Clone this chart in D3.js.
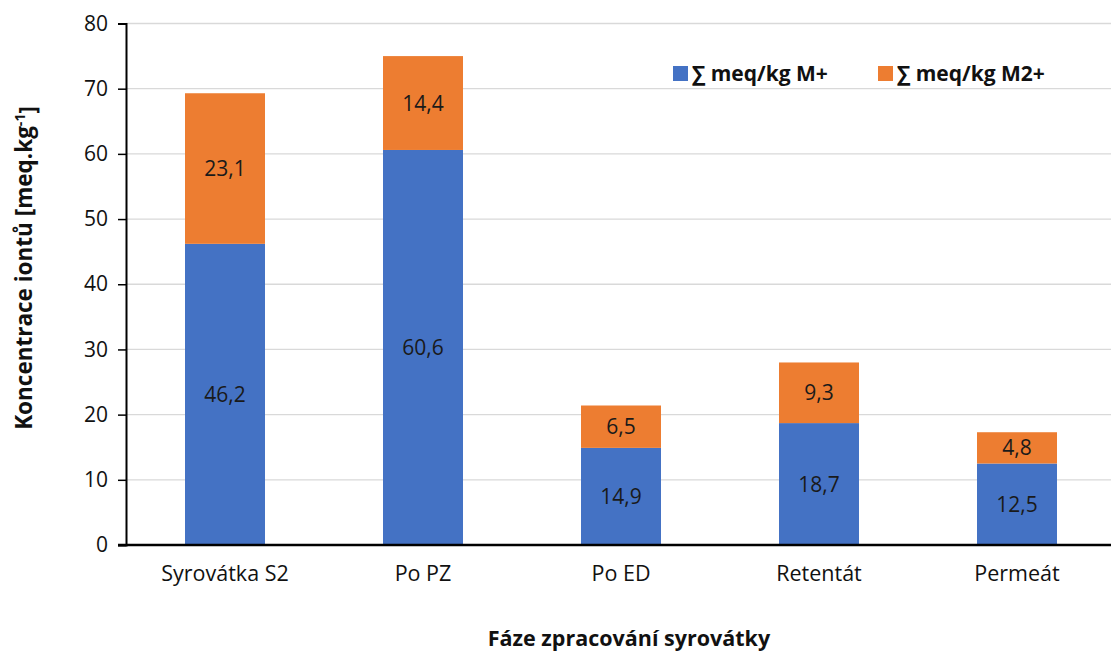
<!DOCTYPE html>
<html>
<head>
<meta charset="utf-8">
<script src="https://cdn.jsdelivr.net/npm/d3@7"></script>
<style>
  html, body { margin: 0; padding: 0; background: #fff; }
  svg { display: block; font-family: "Open Sans", sans-serif; }
</style>
</head>
<body>
<svg id="chart" width="1111" height="653"></svg>
<script>
// Ion concentration per processing stage (meq/kg)
const categories = ["Syrovátka S2", "Po PZ", "Po ED", "Retentát", "Permeát"];
const monovalent = [46.2, 60.6, 14.9, 18.7, 12.5];   // ∑ meq/kg M+
const divalent   = [23.1, 14.4, 6.5, 9.3, 4.8];      // ∑ meq/kg M2+
const seriesNames = ["∑ meq/kg M+", "∑ meq/kg M2+"];
const seriesColors = ["#4472c4", "#ed7d31"];
const yTicks = [0, 10, 20, 30, 40, 50, 60, 70, 80];

const svg = d3.select("#chart");
const plotLeft = 126, plotRight = 1116, plotTop = 23.5, plotBottom = 545;
const fontFamily = "'Open Sans', sans-serif";

const x = d3.scaleBand().domain(categories).range([plotLeft, plotRight]).paddingInner(0.596).paddingOuter(0.298);
const y = d3.scaleLinear().domain([0, 80]).range([plotBottom, plotTop]);

// gridlines
svg.append("g").selectAll("line").data(yTicks.filter(d => d > 0)).join("line")
  .attr("x1", plotLeft).attr("x2", 1111)
  .attr("y1", d => y(d)).attr("y2", d => y(d))
  .attr("stroke", "#d9d9d9").attr("stroke-width", 1.3);

// stacked bars
const rows = categories.map((c, i) => ({ cat: c, m1: monovalent[i], m2: divalent[i] }));
const stack = d3.stack().keys(["m1", "m2"])(rows);

const layers = svg.append("g").selectAll("g").data(stack).join("g")
  .attr("fill", (d, i) => seriesColors[i]);
layers.selectAll("rect").data(d => d).join("rect")
  .attr("x", d => x(d.data.cat))
  .attr("width", x.bandwidth())
  .attr("y", d => y(d[1]))
  .attr("height", d => y(d[0]) - y(d[1]));

// value labels
const fmt = v => d3.format(".1f")(v).replace(".", ",");
layers.selectAll("text").data((d) => d.map(p => ({ p, key: d.key }))).join("text")
  .attr("x", d => x(d.p.data.cat) + x.bandwidth() / 2)
  .attr("y", d => (y(d.p[0]) + y(d.p[1])) / 2)
  .attr("dy", "0.36em")
  .attr("text-anchor", "middle")
  .attr("fill", "#1a1a1a")
  .attr("font-size", 21)
  .text(d => fmt(d.p.data[d.key]));

// y axis
const yAxis = svg.append("g").attr("transform", `translate(${plotLeft},0)`)
  .call(d3.axisLeft(y).tickValues(yTicks).tickSize(8).tickPadding(10));
yAxis.select(".domain").attr("stroke", "#000").attr("stroke-width", 2);
yAxis.selectAll(".tick line").attr("stroke", "#000").attr("stroke-width", 1.5);
yAxis.selectAll(".tick text").attr("font-size", 21).attr("fill", "#111").attr("font-family", fontFamily);

// x axis baseline
const xAxis = svg.append("g").attr("transform", `translate(0,${plotBottom})`)
  .call(d3.axisBottom(x).tickSize(0).tickPadding(21));
xAxis.select(".domain").remove();
xAxis.append("line").attr("x1", plotLeft - 8).attr("x2", 1111).attr("y1", 0).attr("y2", 0)
  .attr("stroke", "#000").attr("stroke-width", 2.5);
xAxis.selectAll(".tick text").attr("font-size", 21.5).attr("fill", "#111").attr("font-family", fontFamily);

// axis titles
svg.append("text")
  .attr("x", 629).attr("y", 646)
  .attr("text-anchor", "middle")
  .attr("font-size", 21.5).attr("font-weight", "bold").attr("fill", "#111")
  .text("Fáze zpracování syrovátky");

const yTitle = svg.append("text")
  .attr("transform", "translate(32,268) rotate(-90)")
  .attr("text-anchor", "middle")
  .attr("font-size", 22.5).attr("font-weight", "bold").attr("fill", "#111");
yTitle.append("tspan").text("Koncentrace iontů [meq.kg");
yTitle.append("tspan").attr("dy", "-0.5em").attr("font-size", 14).text("-1");
yTitle.append("tspan").attr("dy", "0.5em").text("]");

// legend
const legendX = [673, 878];
const legend = svg.append("g").selectAll("g").data(seriesNames).join("g")
  .attr("transform", (d, i) => `translate(${legendX[i]},73)`);
legend.append("rect").attr("x", 0).attr("y", -7).attr("width", 15).attr("height", 15)
  .attr("fill", (d, i) => seriesColors[i]);
legend.append("text").attr("x", 19).attr("dy", "0.36em")
  .attr("font-size", 21).attr("font-weight", "bold").attr("fill", "#111")
  .text(d => d);
</script>
</body>
</html>
